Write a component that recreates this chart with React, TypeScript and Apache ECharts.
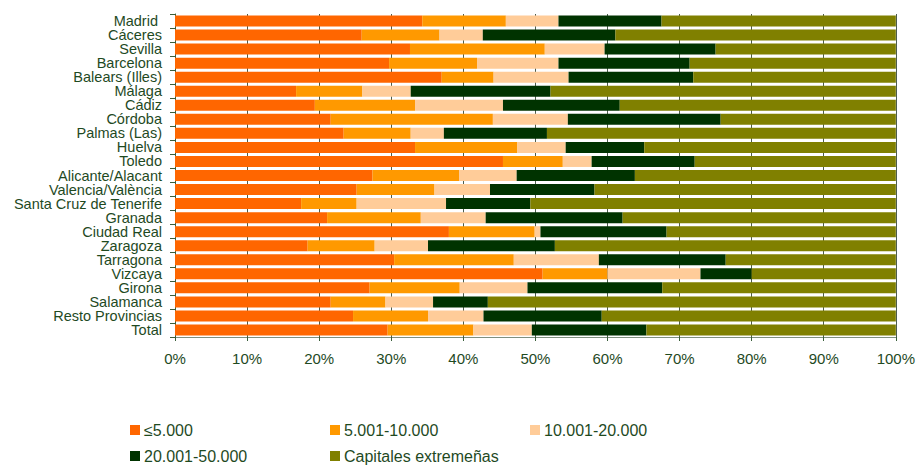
import React, { useEffect, useRef } from "react";
import * as echarts from "echarts";

const categories = [
  "Madrid ", "Cáceres", "Sevilla", "Barcelona", "Balears (Illes)", "Málaga", "Cádiz",
  "Córdoba", "Palmas (Las)", "Huelva", "Toledo", "Alicante/Alacant", "Valencia/València",
  "Santa Cruz de Tenerife", "Granada", "Ciudad Real", "Zaragoza", "Tarragona", "Vizcaya",
  "Girona", "Salamanca", "Resto Provincias", "Total",
];

const seriesNames = ["≤5.000", "5.001-10.000", "10.001-20.000", "20.001-50.000", "Capitales extremeñas"];

const hasta5000 = [34.3, 25.9, 32.6, 29.7, 37.0, 16.8, 19.4, 21.6, 23.4, 33.3, 45.5, 27.4, 25.2, 17.5, 21.1, 38.0, 18.4, 30.4, 51.0, 27.0, 21.6, 24.7, 29.5];
const de5001a10000 = [11.6, 10.8, 18.7, 12.2, 7.2, 9.2, 13.9, 22.5, 9.3, 14.2, 8.3, 12.0, 10.8, 7.7, 13.0, 11.9, 9.3, 16.6, 9.0, 12.5, 7.6, 10.4, 11.9];
const de10001a20000 = [7.3, 6.0, 8.3, 11.3, 10.4, 6.7, 12.2, 10.4, 4.6, 6.7, 4.0, 8.0, 7.7, 12.4, 9.0, 0.8, 7.4, 11.8, 12.9, 9.4, 6.6, 7.7, 8.1];
const de20001a50000 = [14.3, 18.4, 15.4, 18.2, 17.3, 19.4, 16.2, 21.2, 14.3, 10.9, 14.3, 16.4, 14.5, 11.7, 19.0, 17.5, 17.6, 17.6, 7.1, 18.7, 7.6, 16.4, 15.9];
const capitales = [32.5, 38.9, 25.0, 28.6, 28.1, 47.9, 38.3, 24.3, 48.4, 34.9, 27.9, 36.2, 41.8, 50.7, 37.9, 31.8, 47.3, 23.6, 20.0, 32.4, 56.6, 40.8, 34.6];

const xTicks = [0, 10, 20, 30, 40, 50, 60, 70, 80, 90, 100];

const colors = ["#FF6600", "#FF9900", "#FFCC99", "#003300", "#808000"];
const allData = [hasta5000, de5001a10000, de10001a20000, de20001a50000, capitales];

const FONT = "'Liberation Sans', Arial, sans-serif";
const TEXT = "#1f4a1f";

export default function App() {
  const ref = useRef<HTMLDivElement>(null);
  useEffect(() => {
    if (!ref.current) return;
    const chart = echarts.init(ref.current, undefined, { renderer: "svg" });
    const legendPos = [
      { left: 130, top: 422 },
      { left: 330, top: 422 },
      { left: 530, top: 422 },
      { left: 130, top: 448 },
      { left: 330, top: 448 },
    ];
    chart.setOption({
      animation: false,
      backgroundColor: "#ffffff",
      textStyle: { fontFamily: FONT },
      grid: { left: 175, top: 14, width: 721.5, height: 323, containLabel: false },
      legend: seriesNames.map((n, i) => ({
        data: [n],
        left: legendPos[i].left,
        top: legendPos[i].top,
        padding: 0,
        icon: "rect",
        itemWidth: 10,
        itemHeight: 10,
        itemGap: 4,
        selectedMode: false,
        textStyle: { color: TEXT, fontSize: 16, fontFamily: FONT, padding: [0, 0, 0, -1] },
      })),
      xAxis: {
        type: "value",
        min: xTicks[0],
        max: xTicks[xTicks.length - 1],
        interval: 10,
        axisLine: { show: true, lineStyle: { color: "#7f8f7f", width: 1 } },
        axisTick: { show: true, length: 4, lineStyle: { color: "#3a5f3a" } },
        axisLabel: { formatter: "{value}%", color: TEXT, fontSize: 15, fontFamily: FONT, margin: 14 },
        splitLine: { show: true, lineStyle: { color: "#4d5d4d", width: 1 } },
      },
      yAxis: {
        type: "category",
        inverse: true,
        data: categories,
        axisLine: { show: true, lineStyle: { color: "#3a5f3a", width: 1 } },
        axisTick: { show: true, length: 5, interval: 0, lineStyle: { color: "#3a5f3a" } },
        axisLabel: { interval: 0, color: TEXT, fontSize: 14.5, lineHeight: 14, fontFamily: FONT, margin: 13 },
      },
      series: seriesNames.map((n, i) => ({
        name: n,
        type: "bar",
        stack: "total",
        barWidth: 11,
        data: allData[i],
        itemStyle: { color: colors[i] },
      })),
    });
    return () => chart.dispose();
  }, []);
  return <div ref={ref} style={{ position: "absolute", left: 0, top: 0, width: 918, height: 466 }} />;
}
